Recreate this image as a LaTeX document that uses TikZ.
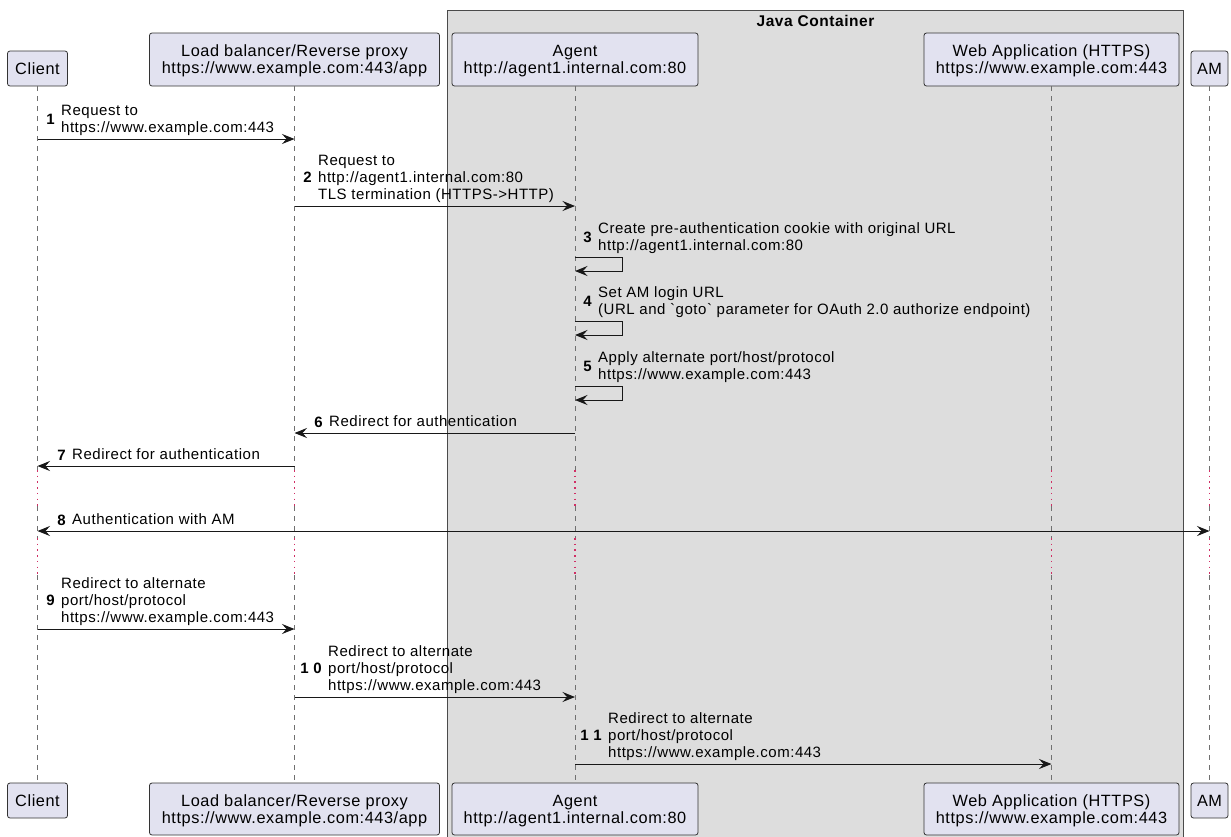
\documentclass[tikz,border=0pt]{standalone}
\usepackage{fontspec}
\setmainfont{Liberation Sans}[LetterSpace=3.5,Ligatures=TeXOff]
\usetikzlibrary{arrows.meta}
\definecolor{partfill}{HTML}{E2E2F0}
\definecolor{partdraw}{HTML}{333333}
\definecolor{boxfill}{HTML}{DDDDDD}
\definecolor{boxdraw}{HTML}{4A4A4A}
\definecolor{lifeln}{HTML}{707070}
\definecolor{delayln}{HTML}{D02E64}
\definecolor{msgln}{HTML}{181818}
\newcommand\twolines[2]{\begin{tabular}{@{}c@{}}\rule{0pt}{16.5pt}#1\\#2\end{tabular}}
\tikzset{
  part/.style={draw=partdraw, fill=partfill, rounded corners=2.5pt, line width=0.8pt,
    inner sep=0pt, font=\fontsize{16.3}{17}\selectfont, text=black},
  lifeline/.style={draw=lifeln, line width=0.7pt, dash pattern=on 5pt off 5pt},
  delayline/.style={draw=delayln, line width=1.5pt, dash pattern=on 1.5pt off 4.2pt},
  msg/.style={draw=msgln, line width=1pt, -{Stealth[length=12.5pt,width=10pt,inset=4.5pt]}},
  msgboth/.style={draw=msgln, line width=1pt, {Stealth[length=12.5pt,width=10pt,inset=4.5pt]}-{Stealth[length=12.5pt,width=10pt,inset=4.5pt]}},
  lbl/.style={anchor=south west, inner sep=0pt, align=left, font=\fontsize{15}{17.2}\selectfont},
  num/.style={anchor=base east, inner sep=0pt, font=\fontsize{15}{17.2}\selectfont\bfseries},
  jcbox/.style={draw=boxdraw, fill=boxfill, line width=1pt},
}
\begin{document}
\begin{tikzpicture}[x=1pt,y=-1pt]
\useasboundingbox (0,0) rectangle (1231,836);
% Java container
\draw[jcbox] (447,10.5) rectangle (1183.5,838);
\node[anchor=base, inner sep=0pt, font=\fontsize{15.5}{17}\selectfont\bfseries] (jctitle) at (815.5,26) {Java Container};

% participants top
\node[part, minimum width=60pt, minimum height=35pt] (client) at (37.5,68.5) {Client};
\node[part, minimum width=290pt, minimum height=53pt] (lb) at (294.5,59.5) {\twolines{Load balancer/Reverse proxy}{https://www.example.com:443/app}};
\node[part, minimum width=246pt, minimum height=53pt] (agent) at (575,59.5) {\twolines{Agent}{http://agent1.internal.com:80}};
\node[part, minimum width=255pt, minimum height=53pt] (web) at (1051.5,59.5) {\twolines{Web Application (HTTPS)}{https://www.example.com:443}};
\node[part, minimum width=37pt, minimum height=35pt] (am) at (1209.5,68.5) {AM};
% participants bottom
\node[part, minimum width=60pt, minimum height=35pt] (clientB) at (37.5,800.5) {Client};
\node[part, minimum width=290pt, minimum height=52pt] (lbB) at (294.5,809) {\twolines{Load balancer/Reverse proxy}{https://www.example.com:443/app}};
\node[part, minimum width=246pt, minimum height=52pt] (agentB) at (575,809) {\twolines{Agent}{http://agent1.internal.com:80}};
\node[part, minimum width=255pt, minimum height=52pt] (webB) at (1051.5,809) {\twolines{Web Application (HTTPS)}{https://www.example.com:443}};
\node[part, minimum width=37pt, minimum height=35pt] (amB) at (1209.5,800.5) {AM};

% delay levels
\coordinate (d1a) at (0,470);
\coordinate (d1b) at (0,506);
\coordinate (d2a) at (0,538);
\coordinate (d2b) at (0,575);
% lifelines
\foreach \p in {client,lb,agent,web,am}{
  \draw[lifeline] (\p.south) -- (\p |- d1a);
  \draw[delayline] (\p |- d1a) -- (\p |- d1b);
  \draw[lifeline] (\p |- d1b) -- (\p |- d2a);
  \draw[delayline] (\p |- d2a) -- (\p |- d2b);
  \draw[lifeline] (\p |- d2b) -- (\p B.north);
}

% message levels
\coordinate (y1) at (0,139);
\coordinate (y2) at (0,206);
\coordinate (y3) at (0,257);
\coordinate (y3b) at (0,271);
\coordinate (y4) at (0,321);
\coordinate (y4b) at (0,335);
\coordinate (y5) at (0,386);
\coordinate (y5b) at (0,400);
\coordinate (y6) at (0,433);
\coordinate (y7) at (0,466);
\coordinate (y8) at (0,531);
\coordinate (y9) at (0,629);
\coordinate (y10) at (0,697);
\coordinate (y11) at (0,764);

% 1
\draw[msg] (client |- y1) -- (lb |- y1);
\node[lbl] (l1) at (61,138) {Request to\\https://www.example.com:443\strut};
\node[num] (n1) at (55,124.4) {1};
% 2
\draw[msg] (lb |- y2) -- (agent |- y2);
\node[lbl] (l2) at (318,205) {Request to\\http://agent1.internal.com:80\\TLS termination (HTTPS->HTTP)\strut};
\node[num] (n2) at (312,182.8) {2};
% 3
\draw[msg] (agent |- y3) -- ++(47,0) -- ++(0,14) -- (agent |- y3b);
\node[lbl] (l3) at (598,256) {Create pre-authentication cookie with original URL\\http://agent1.internal.com:80\strut};
\node[num] (n3) at (592,242.4) {3};
% 4
\draw[msg] (agent |- y4) -- ++(47,0) -- ++(0,14) -- (agent |- y4b);
\node[lbl] (l4) at (598,320) {Set AM login URL\\(URL and `goto` parameter for OAuth 2.0 authorize endpoint)\strut};
\node[num] (n4) at (592,306.4) {4};
% 5
\draw[msg] (agent |- y5) -- ++(47,0) -- ++(0,14) -- (agent |- y5b);
\node[lbl] (l5) at (598,385) {Apply alternate port/host/protocol\\https://www.example.com:443\strut};
\node[num] (n5) at (592,371.4) {5};
% 6
\draw[msg] (agent |- y6) -- (lb |- y6);
\node[lbl] (l6) at (329,432) {Redirect for authentication\strut};
\node[num] (n6) at (323,427) {6};
% 7
\draw[msg] (lb |- y7) -- (client |- y7);
\node[lbl] (l7) at (72,465) {Redirect for authentication\strut};
\node[num] (n7) at (66,460) {7};
% 8
\draw[msgboth] (client |- y8) -- (am |- y8);
\node[lbl] (l8) at (72,530) {Authentication with AM\strut};
\node[num] (n8) at (66,525) {8};
% 9
\draw[msg] (client |- y9) -- (lb |- y9);
\node[lbl] (l9) at (61,628) {Redirect to alternate\\port/host/protocol\\https://www.example.com:443\strut};
\node[num] (n9) at (55,605.8) {9};
% 10
\draw[msg] (lb |- y10) -- (agent |- y10);
\node[lbl] (l10) at (328,696) {Redirect to alternate\\port/host/protocol\\https://www.example.com:443\strut};
\node[num] (n10) at (322,673.8) {1 0};
% 11
\draw[msg] (agent |- y11) -- (web |- y11);
\node[lbl] (l11) at (608,763) {Redirect to alternate\\port/host/protocol\\https://www.example.com:443\strut};
\node[num] (n11) at (602,740.8) {1 1};
\end{tikzpicture}
\end{document}
